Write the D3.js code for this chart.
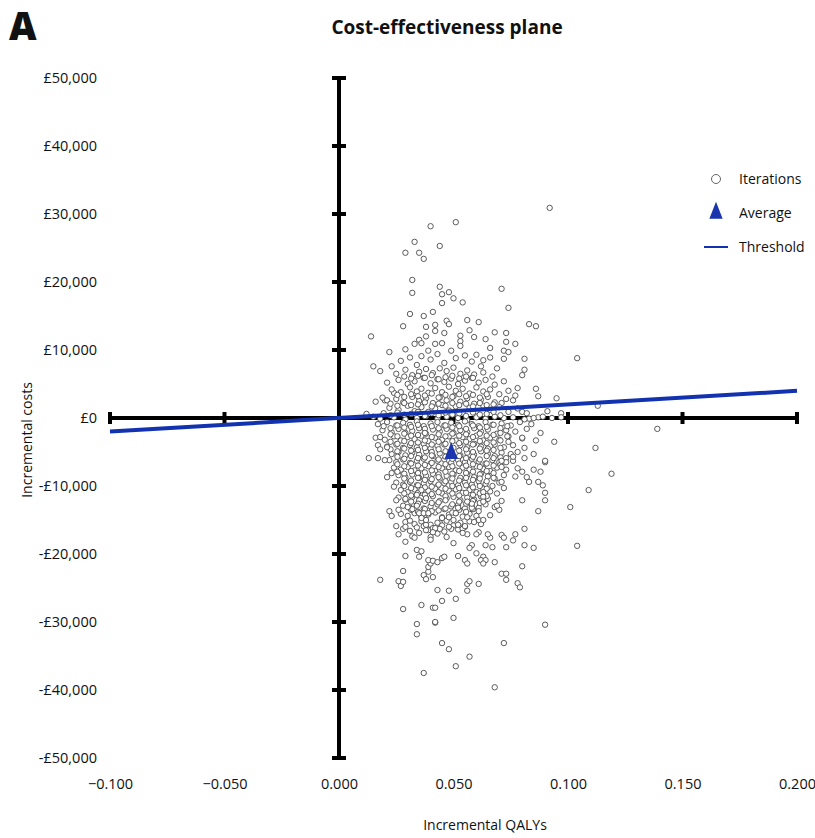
<!DOCTYPE html>
<head>
  <meta charset="utf-8">
  <script src="https://d3js.org/d3.v7.min.js"></script>
  <style>
    body { margin: 0; background: #fff; font-family: "Open Sans", sans-serif; }
    text { fill: #111; }
  </style>
</head>
<body>
<script>
  // tick values for both axes
  var qalyTicks = [-0.1, -0.05, 0, 0.05, 0.1, 0.15, 0.2];
  var costTicks = [50000, 40000, 30000, 20000, 10000, 0, -10000, -20000, -30000, -40000, -50000];

  // willingness to pay per QALY (slope of the threshold line)
  var threshold = 20000;

  // mean of the iterations
  var average = [0.049, -5200];

  // outliers above the axis
  var iterUpper = [
    [0.040,28200],[0.051,28800],[0.033,25900],[0.044,25300],[0.029,24300],[0.035,24300],[0.037,23400],
    [0.032,20300],[0.032,18400],[0.044,19300],[0.045,18200],[0.048,18500],[0.050,17600],[0.045,16900],
    [0.054,17000],[0.031,15300],[0.037,15000],[0.041,15600],[0.028,13500],[0.038,13400],[0.042,13700],
    [0.047,14300],[0.048,13800],[0.042,12800],[0.046,12500],[0.056,14400],[0.057,12900],[0.014,12000],
    [0.035,11500],[0.033,10900],[0.042,10900],[0.045,11000],[0.053,12100],[0.053,11300],[0.053,10600],
    [0.059,11900],[0.022,9700],[0.029,10100],[0.039,9900],[0.049,9900],[0.015,7600],[0.018,6900],
    [0.023,7600],[0.016,2400],[0.020,2600],[0.021,2600],[0.024,3700],[0.012,600],
    [0.092,30900],[0.071,19000],[0.074,16200],[0.083,13800],[0.086,13500],[0.073,12500],[0.073,11200],
    [0.077,10900],[0.072,9900],[0.074,9700],[0.072,8700],[0.081,8700],[0.104,8800],[0.081,7100],
    [0.080,6300],[0.078,4400],[0.086,4300],[0.087,3200],[0.095,2900],[0.076,2600],[0.071,2200],
    [0.113,1800],[0.091,1000],[0.097,700],[0.080,900],[0.097,100],[0.087,100],[0.083,-100],
    [0.061,14100],[0.064,11600],[0.066,10300],[0.068,12600],[0.060,9300],[0.063,8500],[0.036,11000],[0.038,12000]
  ];

  // band between 0 and +9,000
  var iterPositive = [
    [0.027,8400],[0.031,8900],[0.034,7800],[0.036,9100],[0.040,8600],[0.043,9400],[0.046,8100],[0.051,8800],
    [0.055,9200],[0.058,8300],[0.062,7600],[0.066,8900],[0.069,7300],[0.025,6500],[0.029,7100],[0.032,6300],
    [0.035,6800],[0.038,7200],[0.041,6600],[0.044,7300],[0.047,6900],[0.050,7400],[0.053,6500],[0.056,7000],
    [0.059,6400],[0.063,6700],[0.067,6100],[0.021,5200],[0.026,5600],[0.030,5000],[0.033,5400],[0.037,5900],
    [0.040,5100],[0.043,5700],[0.046,5300],[0.049,5800],[0.052,5000],[0.055,5500],[0.058,5900],[0.061,5200],
    [0.064,5600],[0.068,4900],[0.072,5400],[0.023,4200],[0.027,3800],[0.031,4500],[0.034,3900],[0.036,4300],
    [0.039,3700],[0.042,4400],[0.045,3800],[0.048,4600],[0.051,4000],[0.054,4300],[0.057,3600],[0.060,4500],
    [0.063,3900],[0.066,4200],[0.070,3500],[0.074,4000],[0.019,3000],[0.025,2800],[0.028,2300],[0.032,3100],
    [0.035,2500],[0.038,2900],[0.041,2200],[0.044,3000],[0.047,2600],[0.050,3200],[0.053,2400],[0.056,2900],
    [0.059,2100],[0.062,2700],[0.065,3100],[0.068,2300],[0.073,2800],[0.077,3300],[0.022,1500],[0.026,1200],
    [0.030,1800],[0.033,1000],[0.036,1600],[0.039,900],[0.042,1400],[0.045,1900],[0.048,1100],[0.051,1700],
    [0.054,800],[0.057,1500],[0.060,1000],[0.063,1800],[0.066,1200],[0.070,1600],[0.074,900],[0.078,1400],
    [0.082,700],[0.015,200],[0.018,-100],[0.024,100],[0.029,-200],[0.034,0],[0.038,300],[0.043,-100],
    [0.047,200],[0.052,0],[0.056,-300],[0.060,100],[0.064,-100],[0.068,200],[0.072,0],[0.076,100],
    [0.081,-200],[0.085,0],[0.089,200],[0.093,0],
    [0.0285,6100],[0.0315,5800],[0.0345,6200],[0.0375,5900],[0.0405,6300],[0.0435,5700],[0.0465,6000],
    [0.0495,6200],[0.0525,5800],[0.0555,6100],[0.0585,5900],
    [0.0255,3400],[0.0285,3100],[0.0315,3500],[0.0345,3200],[0.0375,3300],[0.0405,3600],[0.0435,3000],
    [0.0465,3400],[0.0495,3100],[0.0525,3500],[0.0555,3200],[0.0585,3400],[0.0615,3000],[0.0645,3500],
    [0.0225,2100],[0.0255,1800],[0.0285,2200],[0.0315,1900],[0.0345,2000],[0.0375,2300],[0.0405,1700],
    [0.0435,2100],[0.0465,1800],[0.0495,2200],[0.0525,1900],[0.0555,2100],[0.0585,1700],[0.0615,2200],
    [0.0645,1900],[0.0675,2000],
    [0.0195,700],[0.0225,400],[0.0255,800],[0.0285,500],[0.0315,600],[0.0345,900],[0.0375,300],[0.0405,700],
    [0.0435,400],[0.0465,800],[0.0495,500],[0.0525,700],[0.0555,300],[0.0585,800],[0.0615,500],[0.0645,600],
    [0.0675,900],[0.0705,400]
  ];

  // dense core below the axis
  var iterCore = [
    [0.017,-900],[0.021,-600],[0.025,-1100],[0.028,-700],[0.031,-1000],[0.034,-500],[0.037,-1200],[0.040,-800],
    [0.043,-600],[0.046,-1100],[0.049,-700],[0.052,-1000],[0.055,-500],[0.058,-900],[0.061,-1200],[0.064,-600],
    [0.067,-1000],[0.071,-800],[0.075,-1100],[0.079,-600],[0.084,-900],
    [0.019,-1800],[0.023,-2100],[0.026,-1600],[0.029,-2200],[0.032,-1900],[0.035,-1500],[0.038,-2300],[0.041,-1700],
    [0.044,-2000],[0.047,-1600],[0.050,-2200],[0.053,-1800],[0.056,-2100],[0.059,-1500],[0.062,-2000],[0.065,-1700],
    [0.069,-2300],[0.073,-1800],[0.077,-2000],[0.082,-1600],[0.088,-2200],
    [0.016,-2900],[0.020,-3200],[0.024,-2700],[0.027,-3300],[0.030,-2800],[0.033,-3100],[0.036,-2600],[0.039,-3400],
    [0.042,-2900],[0.045,-3200],[0.048,-2700],[0.051,-3300],[0.054,-2800],[0.057,-3100],[0.060,-2600],[0.063,-3300],
    [0.066,-2900],[0.070,-3200],[0.074,-2700],[0.080,-3000],[0.086,-3300],
    [0.021,-4200],[0.025,-3900],[0.028,-4400],[0.031,-4000],[0.034,-4300],[0.037,-3800],[0.040,-4500],[0.043,-4100],
    [0.046,-3900],[0.050,-4400],[0.053,-4000],[0.056,-4300],[0.059,-3800],[0.062,-4200],[0.065,-4500],[0.068,-3900],
    [0.072,-4300],[0.076,-4000],[0.081,-4400],
    [0.023,-5300],[0.026,-5000],[0.029,-5500],[0.032,-5100],[0.035,-5400],[0.038,-4900],[0.041,-5600],[0.044,-5200],
    [0.047,-5000],[0.053,-5500],[0.056,-5100],[0.059,-5400],[0.062,-4900],[0.065,-5300],[0.068,-5600],[0.071,-5100],
    [0.078,-5000],
    [0.022,-6200],[0.025,-6500],[0.028,-6100],[0.031,-6600],[0.034,-6300],[0.037,-6000],[0.040,-6700],[0.043,-6300],
    [0.046,-6100],[0.049,-6600],[0.052,-6200],[0.055,-6500],[0.058,-6000],[0.061,-6400],[0.064,-6700],[0.067,-6200],
    [0.070,-6500],[0.076,-6300],
    [0.024,-7300],[0.027,-7600],[0.030,-7200],[0.033,-7700],[0.036,-7400],[0.039,-7100],[0.042,-7800],[0.045,-7400],
    [0.048,-7200],[0.051,-7700],[0.054,-7300],[0.057,-7600],[0.060,-7100],[0.063,-7500],[0.066,-7800],[0.069,-7300],
    [0.073,-7600],
    [0.026,-8400],[0.029,-8700],[0.032,-8300],[0.035,-8800],[0.038,-8500],[0.041,-8200],[0.044,-8900],[0.047,-8500],
    [0.050,-8300],[0.053,-8800],[0.056,-8400],[0.059,-8700],[0.062,-8200],[0.065,-8600],[0.068,-8900],[0.072,-8400],
    [0.077,-8600],
    [0.025,-9500],[0.028,-9800],[0.031,-9400],[0.034,-9900],[0.037,-9600],[0.040,-9300],[0.043,-10000],[0.046,-9600],
    [0.049,-9400],[0.052,-9900],[0.055,-9500],[0.058,-9800],[0.061,-9300],[0.064,-9700],[0.067,-10000],[0.070,-9500],
    [0.027,-10600],[0.030,-10900],[0.033,-10500],[0.036,-11000],[0.039,-10700],[0.042,-10400],[0.045,-11100],
    [0.048,-10700],[0.051,-10500],[0.054,-11000],[0.057,-10600],[0.060,-10900],[0.063,-10400],[0.066,-10800],[0.069,-11100],
    [0.026,-11700],[0.029,-12000],[0.032,-11600],[0.035,-12100],[0.038,-11800],[0.041,-11500],[0.044,-12200],
    [0.047,-11800],[0.050,-11600],[0.053,-12100],[0.056,-11700],[0.059,-12000],[0.062,-11500],[0.065,-11900],[0.071,-12200],
    [0.028,-12900],[0.031,-13200],[0.034,-12800],[0.037,-13300],[0.040,-13000],[0.043,-12700],[0.046,-13400],
    [0.049,-13000],[0.052,-12800],[0.055,-13300],[0.058,-12900],[0.061,-13200],[0.064,-12700],[0.068,-13100],
    [0.027,-14100],[0.030,-14400],[0.033,-14000],[0.036,-14500],[0.039,-14200],[0.042,-13900],[0.045,-14600],
    [0.048,-14200],[0.051,-14000],[0.054,-14500],[0.057,-14100],[0.060,-14400],[0.066,-14300],
    [0.029,-15300],[0.033,-15600],[0.036,-15200],[0.040,-15700],[0.044,-15400],[0.047,-15100],[0.050,-15800],
    [0.053,-15400],[0.057,-15200],[0.062,-15600],
    [0.031,-16600],[0.035,-16900],[0.039,-16500],[0.043,-17000],[0.046,-16700],[0.052,-16400],[0.056,-17100],[0.061,-16800]
  ];

  // second, offset layer of the core (the densest part of the cloud)
  var iterCoreMid = [
    [0.0195,-1200],[0.0225,-1500],[0.0255,-1100],[0.0285,-1400],[0.0315,-1300],[0.0345,-1000],[0.0375,-1600],
    [0.0405,-1200],[0.0435,-1500],[0.0465,-1100],[0.0495,-1400],[0.0525,-1200],[0.0555,-1600],[0.0585,-1100],
    [0.0615,-1400],[0.0645,-1300],[0.0675,-1000],[0.0705,-1500],[0.0735,-1200],
    [0.0225,-2400],[0.0255,-2700],[0.0285,-2300],[0.0315,-2600],[0.0345,-2500],[0.0375,-2200],[0.0405,-2800],
    [0.0435,-2400],[0.0465,-2700],[0.0495,-2300],[0.0525,-2600],[0.0555,-2400],[0.0585,-2800],[0.0615,-2300],
    [0.0645,-2600],[0.0675,-2500],[0.0705,-2200],[0.0735,-2700],
    [0.0225,-3500],[0.0255,-3800],[0.0285,-3400],[0.0315,-3700],[0.0345,-3600],[0.0375,-3300],[0.0405,-3900],
    [0.0435,-3500],[0.0465,-3800],[0.0495,-3400],[0.0525,-3700],[0.0555,-3500],[0.0585,-3900],[0.0615,-3400],
    [0.0645,-3700],[0.0675,-3600],[0.0705,-3300],
    [0.0225,-4600],[0.0255,-4900],[0.0285,-4500],[0.0315,-4800],[0.0345,-4700],[0.0375,-4400],[0.0405,-5000],
    [0.0435,-4600],[0.0465,-4900],[0.0525,-4800],[0.0555,-4600],[0.0585,-5000],[0.0615,-4500],[0.0645,-4800],
    [0.0675,-4700],[0.0705,-4400],
    [0.0255,-5700],[0.0285,-6000],[0.0315,-5600],[0.0345,-5900],[0.0375,-5800],[0.0405,-5500],[0.0435,-6100],
    [0.0465,-5700],[0.0495,-6000],[0.0525,-5600],[0.0555,-5900],[0.0585,-5700],[0.0615,-6100],[0.0645,-5600],
    [0.0675,-5900],[0.0705,-5800],
    [0.0255,-6800],[0.0285,-7100],[0.0315,-6700],[0.0345,-7000],[0.0375,-6900],[0.0405,-6600],[0.0435,-7200],
    [0.0465,-6800],[0.0495,-7100],[0.0525,-6700],[0.0555,-7000],[0.0585,-6800],[0.0615,-7200],[0.0645,-6700],
    [0.0675,-7000],[0.0705,-6900],
    [0.0255,-7900],[0.0285,-8200],[0.0315,-7800],[0.0345,-8100],[0.0375,-8000],[0.0405,-7700],[0.0435,-8300],
    [0.0465,-7900],[0.0495,-8200],[0.0525,-7800],[0.0555,-8100],[0.0585,-7900],[0.0615,-8300],[0.0645,-7800],
    [0.0675,-8100],
    [0.0285,-8900],[0.0315,-9200],[0.0345,-8800],[0.0375,-9100],[0.0405,-9000],[0.0435,-8700],[0.0465,-9300],
    [0.0495,-8900],[0.0525,-9200],[0.0555,-8800],[0.0585,-9100],[0.0615,-8900],[0.0645,-9300],[0.0675,-8800],
    [0.0285,-10000],[0.0315,-10300],[0.0345,-9900],[0.0375,-10200],[0.0405,-10100],[0.0435,-9800],[0.0465,-10400],
    [0.0495,-10000],[0.0525,-10300],[0.0555,-9900],[0.0585,-10200],[0.0615,-10000],[0.0645,-10400],
    [0.0285,-11100],[0.0315,-11400],[0.0345,-11000],[0.0375,-11300],[0.0405,-11200],[0.0435,-10900],[0.0465,-11500],
    [0.0495,-11100],[0.0525,-11400],[0.0555,-11000],[0.0585,-11300],[0.0615,-11100],[0.0645,-11500],
    [0.0315,-12300],[0.0345,-12600],[0.0375,-12200],[0.0405,-12500],[0.0435,-12400],[0.0465,-12100],[0.0495,-12700],
    [0.0525,-12300],[0.0555,-12600],[0.0585,-12200],[0.0615,-12500],
    [0.0315,-13500],[0.0345,-13800],[0.0375,-13400],[0.0405,-13700],[0.0435,-13600],[0.0465,-13300],[0.0495,-13900],
    [0.0525,-13500],[0.0555,-13800],[0.0585,-13400],
    [0.034,-16100],[0.037,-15900],[0.041,-16200],[0.045,-15800],[0.049,-16300],[0.052,-15700],[0.055,-16000]
  ];

  // scattered iterations below the axis
  var iterLower = [
    [0.094,-3500],[0.101,-13100],[0.104,-18800],[0.090,-6500],[0.085,-5300],[0.088,-7900],[0.085,-7600],[0.087,-9400],
    [0.089,-9900],[0.083,-9400],[0.082,-8700],[0.090,-11000],[0.090,-12100],[0.080,-12100],[0.087,-13700],[0.081,-16300],
    [0.081,-18700],[0.085,-19100],[0.080,-21800],[0.090,-30400],[0.077,-17100],[0.076,-18000],[0.073,-19000],
    [0.071,-17200],[0.072,-17600],[0.067,-19000],[0.064,-18700],[0.066,-17600],[0.065,-17100],[0.060,-17100],
    [0.068,-21200],[0.071,-22900],[0.073,-22900],[0.073,-23800],[0.078,-24300],[0.079,-24900],[0.061,-24400],
    [0.056,-24400],[0.057,-24000],[0.056,-25400],[0.063,-20400],[0.062,-20900],[0.064,-20900],[0.063,-21400],
    [0.060,-19900],[0.055,-20900],[0.056,-21400],[0.058,-18700],[0.057,-19100],[0.052,-20300],[0.051,-26600],
    [0.048,-25400],[0.045,-26900],[0.043,-25300],[0.050,-29400],[0.042,-30100],[0.034,-30300],[0.028,-28100],
    [0.036,-27500],[0.041,-27900],[0.042,-27900],[0.018,-23800],[0.026,-24000],[0.027,-24700],[0.028,-24100],
    [0.028,-22500],[0.037,-23100],[0.038,-23700],[0.041,-23400],[0.039,-22600],[0.039,-21900],[0.040,-21400],
    [0.039,-20900],[0.041,-21000],[0.043,-21200],[0.045,-20600],[0.046,-20400],[0.034,-19400],[0.036,-19600],
    [0.035,-20400],[0.029,-20300],[0.047,-17500],[0.050,-18400],[0.054,-16300],[0.054,-16900],[0.029,-18200],
    [0.032,-17400],[0.033,-17600],[0.025,-15900],[0.026,-17100],[0.028,-16300],[0.029,-16000],[0.031,-15100],
    [0.022,-13700],[0.023,-14400],[0.026,-13500],[0.025,-12100],[0.024,-10100],[0.021,-8700],[0.023,-8100],
    [0.013,-5900],[0.017,-5900],[0.020,-6200],[0.017,-4000],[0.018,-4600],[0.021,-4300],[0.018,-2800],
    [0.074,-3500],[0.080,-2900],[0.075,-5300],[0.073,-5900],[0.076,-5700],[0.078,-7400],[0.080,-7900],
    [0.073,-6500],[0.071,-7200],[0.071,-6300],[0.071,-9400],[0.072,-10300],[0.070,-13500],[0.069,-12900],
    [0.063,-10900],[0.063,-11600],[0.063,-12300],[0.061,-13700],[0.061,-15000],[0.063,-15000],[0.059,-15300],
    [0.055,-15900],[0.056,-14600],[0.058,-13200],[0.058,-12600],[0.056,-12300],[0.052,-13200],[0.051,-14000],
    [0.048,-14600],[0.050,-15000],[0.048,-16000],[0.045,-14700],[0.043,-15400],[0.044,-16300],[0.042,-16200],
    [0.041,-16800],[0.040,-17500],[0.040,-17900],[0.038,-16500],[0.038,-15700],[0.038,-15000],[0.036,-14700],
    [0.035,-14000],[0.037,-14000],[0.039,-14000],[0.034,-12900],[0.032,-13400],[0.030,-13100],[0.029,-11900],
    [0.034,-11300],[0.036,-10600],[0.038,-11800],
    [0.042,-30000],[0.034,-31800],[0.045,-33100],[0.048,-34000],[0.072,-33100],[0.057,-35100],[0.051,-36500],
    [0.037,-37500],[0.068,-39600],
    [0.139,-1600],[0.112,-4400],[0.119,-8200],[0.109,-10600],[0.081,-5900],[0.090,-6300]
  ];

  var iterations = iterUpper.concat(iterPositive, iterCore, iterCoreMid, iterLower);

  var lineBlue = "#1232b0",
    markBlue = "#1a35ad";

  var svg = d3.select("body").append("svg")
    .attr("width", 815)
    .attr("height", 838);

  var x = d3.scaleLinear().domain([-0.1, 0.2]).range([110, 797]);
  var y = d3.scaleLinear().domain([-50000, 50000]).range([758, 78]);

  // panel letter and title
  svg.append("text").attr("x", 9).attr("y", 40)
    .style("font-size", "38px").style("font-weight", 800).text("A");
  svg.append("text").attr("x", 447).attr("y", 34).attr("text-anchor", "middle")
    .style("font-size", "19px").style("font-weight", 700).text("Cost-effectiveness plane");

  // tick labels live on the outer edges
  var fmtCost = function(v) { return (v < 0 ? "-" : "") + "£" + d3.format(",")(Math.abs(v)); };

  var yLab = svg.append("g").attr("transform", "translate(110,0)")
    .call(d3.axisLeft(y).tickValues(costTicks).tickFormat(fmtCost).tickSize(0).tickPadding(13));
  var xLab = svg.append("g").attr("transform", "translate(0,758)")
    .call(d3.axisBottom(x).tickValues(qalyTicks).tickFormat(d3.format(".3f")).tickSize(0).tickPadding(21));
  [yLab, xLab].forEach(function(g) {
    g.select(".domain").remove();
    g.selectAll("text").style("font-family", "Open Sans").style("font-size", "14.5px").style("fill", "#111");
  });

  // axis titles
  svg.append("text").attr("transform", "translate(32,440) rotate(-90)")
    .attr("text-anchor", "middle").style("font-size", "14px").text("Incremental costs");
  svg.append("text").attr("x", 485).attr("y", 830).attr("text-anchor", "middle")
    .style("font-size", "14px").text("Incremental QALYs");

  // thick cross-shaped axes through the origin
  var axes = svg.append("g").attr("stroke", "#000").attr("stroke-width", 4);
  axes.append("line").attr("x1", x(0)).attr("x2", x(0)).attr("y1", y(50000)).attr("y2", y(-50000));
  axes.append("line").attr("x1", x(-0.1)).attr("x2", x(0.2)).attr("y1", y(0)).attr("y2", y(0));
  axes.selectAll(".yt").data(costTicks).enter().append("line")
    .attr("x1", x(0) - 7).attr("x2", x(0) + 7)
    .attr("y1", function(d) { return y(d); }).attr("y2", function(d) { return y(d); });
  axes.selectAll(".xt").data(qalyTicks).enter().append("line")
    .attr("x1", function(d) { return x(d); }).attr("x2", function(d) { return x(d); })
    .attr("y1", y(0) - 6).attr("y2", y(0) + 6);

  // iterations
  svg.append("g").selectAll("circle").data(iterations).enter().append("circle")
    .attr("cx", function(d) { return x(d[0]); })
    .attr("cy", function(d) { return y(d[1]); })
    .attr("r", 2.7)
    .attr("fill", "#fff")
    .attr("stroke", "#4a4a4a")
    .attr("stroke-width", 0.9);

  // threshold line
  svg.append("line")
    .attr("x1", x(-0.1)).attr("y1", y(-0.1 * threshold))
    .attr("x2", x(0.2)).attr("y2", y(0.2 * threshold))
    .attr("stroke", lineBlue).attr("stroke-width", 4);

  // average marker
  var tri = d3.symbol().type(d3.symbolTriangle).size(85);
  svg.append("path").attr("d", tri())
    .attr("transform", "translate(" + x(average[0]) + "," + y(average[1]) + ") scale(0.95,1.4)")
    .attr("fill", markBlue);

  // legend
  var lg = svg.append("g").style("font-size", "14px");
  lg.append("circle").attr("cx", 716).attr("cy", 179).attr("r", 4.5)
    .attr("fill", "#fff").attr("stroke", "#666").attr("stroke-width", 1);
  lg.append("text").attr("x", 739).attr("y", 184).text("Iterations");
  lg.append("path").attr("d", tri()).attr("transform", "translate(716,213) scale(0.95,1.4)").attr("fill", markBlue);
  lg.append("text").attr("x", 739).attr("y", 218).text("Average");
  lg.append("line").attr("x1", 704).attr("x2", 728).attr("y1", 247).attr("y2", 247)
    .attr("stroke", lineBlue).attr("stroke-width", 2);
  lg.append("text").attr("x", 739).attr("y", 252).text("Threshold");
</script>
</body>
